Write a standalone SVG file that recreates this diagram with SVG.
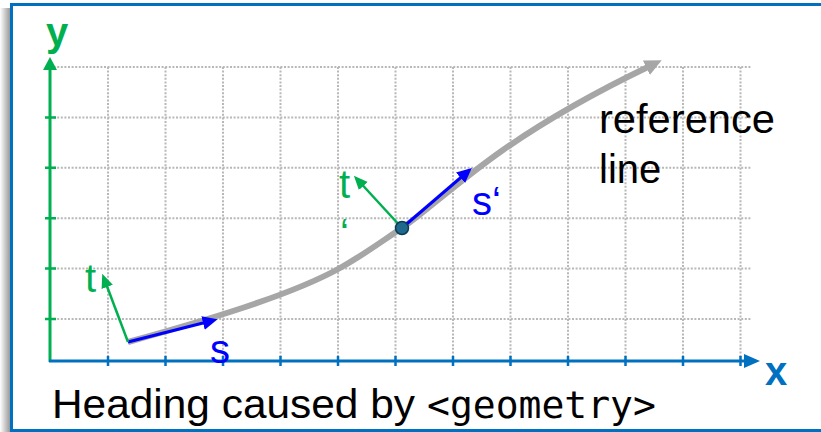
<svg xmlns="http://www.w3.org/2000/svg" width="821" height="432" viewBox="0 0 821 432">
<defs>
<linearGradient id="shadow" x1="0" y1="0" x2="1" y2="0">
<stop offset="0" stop-color="#ffffff"/>
<stop offset="1" stop-color="#9a9a9a"/>
</linearGradient>
<marker id="ahGray" markerUnits="userSpaceOnUse" markerWidth="20" markerHeight="20" viewBox="0 0 20 20" refX="4" refY="10" orient="auto">
<path d="M0,2 L17,10 L0,18 Z" fill="#a6a6a6"/>
</marker>
<marker id="ahBlue" markerUnits="userSpaceOnUse" markerWidth="16" markerHeight="16" viewBox="0 0 16 16" refX="2" refY="8" orient="auto">
<path d="M0,1 L15,8 L0,15 Z" fill="#0000ff"/>
</marker>
<marker id="ahGreen" markerUnits="userSpaceOnUse" markerWidth="16" markerHeight="16" viewBox="0 0 16 16" refX="2" refY="8" orient="auto">
<path d="M0,2 L14,8 L0,14 Z" fill="#00b050"/>
</marker>
</defs>
<style>
.grid { stroke:#b8b8b8; stroke-width:2; stroke-dasharray:2 1.6; fill:none; }
.ytick { stroke:#00b050; stroke-width:2.5; }
.xtick { stroke:#0070c0; stroke-width:2.5; }
.lbl { font-family:"Liberation Sans", Arial, sans-serif; font-size:40px; }
.green { fill:#00b050; }
.blue { fill:#0000ff; }
.vecS { stroke:#0000ff; stroke-width:3; fill:none; marker-end:url(#ahBlue); }
.vecT { stroke:#00b050; stroke-width:2.5; fill:none; marker-end:url(#ahGreen); }
</style>
<rect x="0" y="0" width="821" height="432" fill="#ffffff"/>
<rect x="0" y="8" width="10" height="424" fill="url(#shadow)"/>
<rect x="11.5" y="4.5" width="822" height="426" fill="#ffffff" stroke="#0070c0" stroke-width="3"/>

<g id="grid">
<path class="grid" d="M50,67H752 M50,117.4H752 M50,167.8H752 M50,218.2H752 M50,268.6H752 M50,319H752"/>
<path class="grid" d="M108,67V357 M165.5,67V357 M223,67V357 M280.5,67V357 M338,67V357 M395.5,67V357 M453,67V357 M510.5,67V357 M568,67V357 M625.5,67V357 M683,67V357 M740.5,67V357"/>
</g>

<g id="y-axis">
<line x1="50" y1="362" x2="50" y2="68" stroke="#00b050" stroke-width="3"/>
<polygon points="50,57 43,70 57,70" fill="#00b050"/>
<path class="ytick" d="M45,117.4H56 M45,167.8H56 M45,218.2H56 M45,268.6H56 M45,319H56"/>
<text class="lbl green" x="57" y="46" font-weight="bold" text-anchor="middle">y</text>
</g>

<g id="x-axis">
<line x1="49" y1="361" x2="746" y2="361" stroke="#0070c0" stroke-width="3"/>
<polygon points="760,361 744,354 744,368" fill="#0070c0"/>
<path class="xtick" d="M108,356V366 M165.5,356V366 M223,356V366 M280.5,356V366 M338,356V366 M395.5,356V366 M453,356V366 M510.5,356V366 M568,356V366 M625.5,356V366 M683,356V366 M740.5,356V366"/>
<text class="lbl" x="776" y="385" font-weight="bold" fill="#0070c0" text-anchor="middle">x</text>
</g>

<g id="connectors">
<path id="reference-line" d="M128,342 C200,322 290,296 340,268 C365,254 385,239 402,228 S460,180 503,150 S600,90 650,66" stroke="#a6a6a6" stroke-width="6" fill="none" marker-end="url(#ahGray)"/>
<line id="s-vec" class="vecS" x1="128" y1="342" x2="205" y2="322.5"/>
<line id="t-vec" class="vecT" x1="128" y1="342" x2="106.5" y2="285"/>
<line id="s2-vec" class="vecS" x1="402" y1="228" x2="462" y2="176.5"/>
<line id="t2-vec" class="vecT" x1="402" y1="228" x2="362" y2="184.5"/>
</g>

<g id="point">
<circle cx="402" cy="228" r="6.5" fill="#1f6a8c" stroke="#0b3a58" stroke-width="1.5"/>
</g>

<g id="labels">
<text class="lbl green" x="85" y="292">t</text>
<text class="lbl blue" x="210" y="363" font-size="42">s</text>
<text class="lbl green" x="339" y="198">t</text>
<text class="lbl green" x="340" y="247">‘</text>
<text class="lbl blue" x="472" y="215" font-size="42">s‘</text>
<text class="lbl" x="599" y="133" font-size="41" fill="#000000" textLength="176" lengthAdjust="spacingAndGlyphs">reference</text>
<text class="lbl" x="599" y="183" font-size="41" fill="#000000">line</text>
</g>

<g id="caption">
<text class="lbl" x="52" y="418" font-size="41" fill="#000000" textLength="363" lengthAdjust="spacingAndGlyphs">Heading caused by</text>
<text x="427" y="418" font-family="DejaVu Sans Mono, Liberation Mono, monospace" font-size="38" fill="#000000">&lt;geometry&gt;</text>
</g>
</svg>
